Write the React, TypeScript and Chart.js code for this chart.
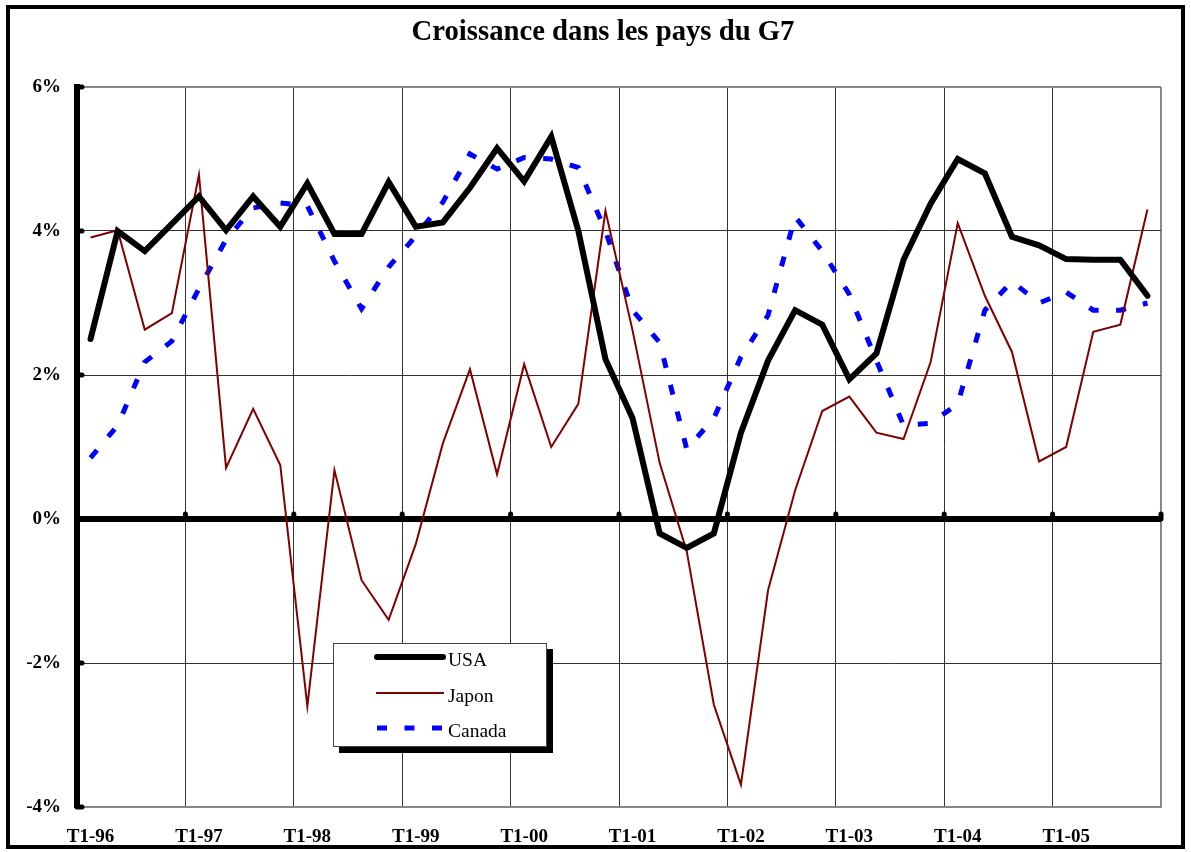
import React, { useEffect, useRef } from 'react';
import { Chart, registerables } from 'chart.js';

Chart.register(...registerables);

const categories = [
  'T1-96', 'T2-96', 'T3-96', 'T4-96',
  'T1-97', 'T2-97', 'T3-97', 'T4-97',
  'T1-98', 'T2-98', 'T3-98', 'T4-98',
  'T1-99', 'T2-99', 'T3-99', 'T4-99',
  'T1-00', 'T2-00', 'T3-00', 'T4-00',
  'T1-01', 'T2-01', 'T3-01', 'T4-01',
  'T1-02', 'T2-02', 'T3-02', 'T4-02',
  'T1-03', 'T2-03', 'T3-03', 'T4-03',
  'T1-04', 'T2-04', 'T3-04', 'T4-04',
  'T1-05', 'T2-05', 'T3-05', 'T4-05',
];

const usa = [
  2.5, 4.0, 3.72, 4.1, 4.48, 4.01, 4.48, 4.06, 4.66, 3.96,
  3.96, 4.68, 4.06, 4.12, 4.6, 5.15, 4.69, 5.31, 4.0, 2.22,
  1.4, -0.2, -0.4, -0.2, 1.2, 2.2, 2.9, 2.7, 1.94, 2.3,
  3.6, 4.38, 5.0, 4.8, 3.92, 3.8, 3.61, 3.6, 3.6, 3.1,
];

const japon = [
  3.91, 4.01, 2.63, 2.86, 4.78, 0.71, 1.53, 0.75, -2.6, 0.68,
  -0.85, -1.4, -0.35, 1.05, 2.08, 0.62, 2.15, 1.0, 1.6, 4.28,
  2.62, 0.78, -0.45, -2.58, -3.69, -0.99, 0.4, 1.5, 1.7, 1.2,
  1.11, 2.18, 4.11, 3.1, 2.32, 0.8, 1.0, 2.6, 2.7, 4.3,
];

const canada = [
  0.85, 1.3, 2.18, 2.47, 3.2, 3.88, 4.32, 4.39, 4.35, 3.58,
  2.92, 3.5, 3.93, 4.4, 5.07, 4.86, 5.02, 5.0, 4.88, 4.0,
  2.9, 2.45, 0.97, 1.4, 2.25, 2.83, 4.2, 3.72, 3.12, 2.2,
  1.3, 1.33, 1.6, 2.9, 3.3, 3.0, 3.15, 2.9, 2.9, 3.0,
];

const seriesLabels = ['USA', 'Japon', 'Canada'];
const titleText = 'Croissance dans les pays du G7';
const yMin = -4;
const yMax = 6;
const yStep = 2;
const labelEvery = 4;

const SERIF = "'Liberation Serif', 'Times New Roman', Times, serif";

const framePlugin = {
  id: 'frame',
  beforeDraw(chart: any) {
    const ctx = chart.ctx;
    ctx.save();
    ctx.fillStyle = '#ffffff';
    ctx.fillRect(0, 0, chart.width, chart.height);
    ctx.restore();
  },
  afterDraw(chart: any) {
    const ctx = chart.ctx;
    const xs = chart.scales.x;
    const ys = chart.scales.y;
    const area = chart.chartArea;
    ctx.save();
    // title
    ctx.fillStyle = '#000';
    ctx.font = `bold 28.7px ${SERIF}`;
    ctx.textAlign = 'center';
    ctx.textBaseline = 'alphabetic';
    ctx.fillText(titleText, 603, 40);

    // tick marks on left axis
    ctx.strokeStyle = '#000';
    ctx.lineCap = 'round';
    ctx.lineWidth = 5;
    ys.ticks.forEach((t: any) => {
      const y = ys.getPixelForValue(t.value);
      ctx.beginPath();
      ctx.moveTo(area.left, y);
      ctx.lineTo(area.left + 5, y);
      ctx.stroke();
    });
    // tick marks on zero line
    const y0 = ys.getPixelForValue(0);
    for (let i = labelEvery; i <= categories.length; i += labelEvery) {
      const x = xs.getPixelForValue(i - 0.5);
      ctx.beginPath();
      ctx.moveTo(x, y0);
      ctx.lineTo(x, y0 - 5);
      ctx.stroke();
    }
    // outer frame
    ctx.lineCap = 'butt';
    ctx.lineWidth = 4;
    ctx.strokeRect(8, 7, chart.width - 16, chart.height - 12);

    // legend box
    const bx = 333, by = 643, bw = 214, bh = 104;
    ctx.fillStyle = '#000';
    ctx.fillRect(bx + 6, by + 6, bw, bh);
    ctx.fillStyle = '#fff';
    ctx.fillRect(bx, by, bw, bh);
    ctx.strokeStyle = '#444';
    ctx.lineWidth = 1;
    ctx.strokeRect(bx + 0.5, by + 0.5, bw - 1, bh - 1);
    const rows = [657, 693, 728];
    chart.data.datasets.forEach((ds: any, i: number) => {
      const y = rows[i];
      ctx.save();
      ctx.strokeStyle = ds.borderColor;
      ctx.lineWidth = ds.borderWidth;
      if (ds.borderDash && ds.borderDash.length) {
        ctx.setLineDash(ds.borderDash);
        ctx.lineCap = 'butt';
        ctx.beginPath();
        ctx.moveTo(377, y);
        ctx.lineTo(445, y);
        ctx.stroke();
      } else {
        ctx.lineCap = ds.borderWidth > 3 ? 'round' : 'butt';
        ctx.beginPath();
        ctx.moveTo(ds.borderWidth > 3 ? 377 : 376, y);
        ctx.lineTo(ds.borderWidth > 3 ? 443 : 444, y);
        ctx.stroke();
      }
      ctx.restore();
      ctx.fillStyle = '#000';
      ctx.font = `19.5px ${SERIF}`;
      ctx.textBaseline = 'alphabetic';
      ctx.textAlign = 'left';
      ctx.fillText(ds.label, 448, y + 9);
    });
    ctx.restore();
  },
};

export default function App() {
  const ref = useRef<HTMLCanvasElement | null>(null);

  useEffect(() => {
    document.body.style.margin = '0';
    const canvas = ref.current;
    if (!canvas) return;
    const chart = new Chart(canvas, {
      type: 'line',
      data: {
        labels: categories,
        datasets: [
          {
            label: seriesLabels[0],
            data: usa,
            borderColor: '#000000',
            backgroundColor: '#000000',
            borderWidth: 6,
            pointRadius: 0,
            tension: 0,
            borderJoinStyle: 'miter',
            borderCapStyle: 'round',
          },
          {
            label: seriesLabels[1],
            data: japon,
            borderColor: '#800000',
            backgroundColor: '#800000',
            borderWidth: 2,
            pointRadius: 0,
            tension: 0,
          },
          {
            label: seriesLabels[2],
            data: canada,
            borderColor: '#0000ff',
            backgroundColor: '#0000ff',
            borderWidth: 5,
            borderDash: [10, 17.5],
            pointRadius: 0,
            tension: 0,
          },
        ],
      },
      options: {
        responsive: false,
        animation: false,
        devicePixelRatio: 1,
        layout: { padding: { left: 0, right: 30, top: 87, bottom: 0 } },
        plugins: {
          legend: { display: false },
          tooltip: { enabled: false },
          title: { display: false },
        },
        scales: {
          x: {
            type: 'category',
            offset: true,
            grid: {
              offset: true,
              drawTicks: false,
              color: (ctx: any) => {
                if (ctx.index === undefined) return '#888';
                if (ctx.index === 0) return 'rgba(0,0,0,0)';
                return ctx.index % labelEvery === 0 ? '#333' : 'rgba(0,0,0,0)';
              },
              lineWidth: (ctx: any) => (ctx.index === undefined ? 2 : 1),
            },
            border: { display: true, color: '#888', width: 2 },
            ticks: {
              autoSkip: false,
              maxRotation: 0,
              minRotation: 0,
              padding: 19,
              color: '#000',
              font: { family: SERIF, size: 19, weight: 'bold' },
              callback: (_v: any, i: number) => (i % labelEvery === 0 ? categories[i] : ''),
            },
            afterFit: (s: any) => {
              s.height = 45;
            },
          },
          y: {
            min: yMin,
            max: yMax,
            grid: {
              drawTicks: false,
              color: (ctx: any) => {
                const v = ctx.tick ? ctx.tick.value : null;
                if (v === 0) return '#000';
                if (v === yMax || v === yMin) return '#888';
                return '#333';
              },
              lineWidth: (ctx: any) => {
                const v = ctx.tick ? ctx.tick.value : null;
                if (v === 0) return 6;
                if (v === yMax || v === yMin) return 2;
                return 1;
              },
            },
            border: { display: true, color: '#000', width: 6 },
            ticks: {
              stepSize: yStep,
              padding: 16,
              color: '#000',
              font: { family: SERIF, size: 19, weight: 'bold' },
              callback: (v: any) => `${v}%`,
            },
            afterFit: (s: any) => {
              s.width = 77;
            },
          },
        },
      },
      plugins: [framePlugin],
    } as any);
    return () => chart.destroy();
  }, []);

  return (
    <div style={{ width: 1191, height: 852 }}>
      <canvas ref={ref} width={1191} height={852} style={{ display: 'block' }} />
    </div>
  );
}
